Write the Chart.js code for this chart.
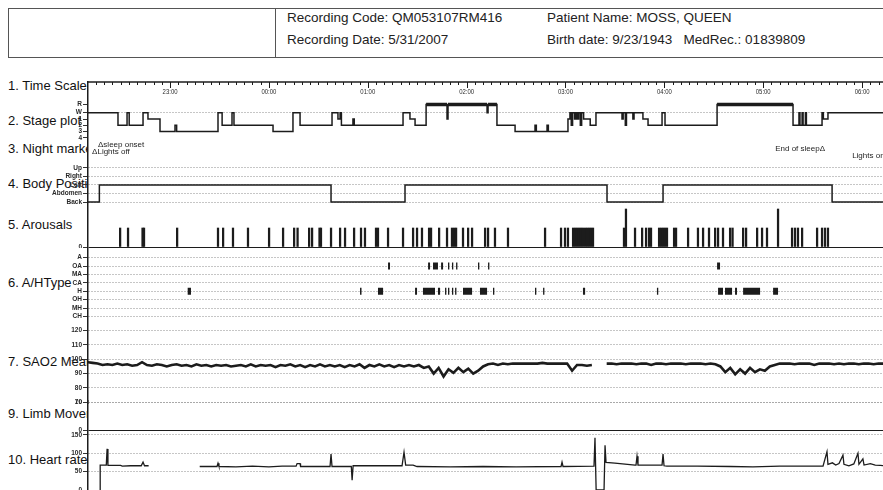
<!DOCTYPE html>
<html>
<head>
<meta charset="utf-8">
<title>Polysomnography overview</title>
<script src="https://cdn.jsdelivr.net/npm/chart.js@4/dist/chart.umd.min.js"></script>
<style>
  html, body { margin: 0; padding: 0; background: #fff; }
  #wrap { position: relative; width: 883px; height: 490px; overflow: hidden;
          font-family: "Liberation Sans", Arial, sans-serif; color: #222; }
  .hdr { position: absolute; left: 8px; top: 8px; width: 900px; height: 50px;
         border: 1.5px solid #555; box-sizing: border-box; }
  .hdr-div { position: absolute; left: 275px; top: 8px; height: 50px; border-left: 1.5px solid #555; }
  .ht { position: absolute; font-size: 13.5px; white-space: nowrap; line-height: 16px; }
  .lbl { position: absolute; left: 8px; width: 80px; overflow: hidden; white-space: nowrap;
         font-size: 13px; line-height: 16px; color: #111; }
  canvas { position: absolute; left: 0; z-index: 1; }
</style>
</head>
<body>
<div id="wrap">
  <div class="hdr"></div>
  <div class="hdr-div"></div>
  <div class="ht" style="left:287px;top:10px">Recording Code: QM053107RM416</div>
  <div class="ht" style="left:287px;top:32px">Recording Date: 5/31/2007</div>
  <div class="ht" style="left:547px;top:10px">Patient Name: MOSS, QUEEN</div>
  <div class="ht" style="left:547px;top:32px">Birth date: 9/23/1943&nbsp;&nbsp; MedRec.: 01839809</div>

  <div class="lbl" style="top:78px">1. Time Scale</div>
  <div class="lbl" style="top:113px">2. Stage plot</div>
  <div class="lbl" style="top:141px">3. Night marker</div>
  <div class="lbl" style="top:176px">4. Body Position</div>
  <div class="lbl" style="top:217px">5. Arousals</div>
  <div class="lbl" style="top:275px">6. A/HType</div>
  <div class="lbl" style="top:354px">7. SAO2 Mean</div>
  <div class="lbl" style="top:406px">9. Limb Movement</div>
  <div class="lbl" style="top:452px">10. Heart rate</div>
</div>
<script>
// All times are minutes after 22:00 on the recording night.
const X_MIN = 10.2, X_MAX = 492.7;
const MINOR_STEP = 5;
const HOUR_TICKS = [60, 120, 180, 240, 300, 360, 420, 480];
const HOUR_LABELS = ['23:00', '00:00', '01:00', '02:00', '03:00', '04:00', '05:00', '06:00'];

// Hypnogram: [minute the stage begins, stage]
const STAGE_NAMES = ['R', 'W', '1', '2', '3', '4'];
const STAGE_LEVEL = { R: 6.3, W: 5, '1': 4, '2': 3, '3': 2, '4': 1 };
const STAGE_CHANGES = [
  [10.2, 'W'], [28.4, '2'], [33.9, 'W'], [35.2, '2'], [43.6, 'W'], [46.6, '1'], [53.9, '3'],
  [63.0, '2'], [64.0, '3'], [89.1, 'W'], [91.6, '2'], [97.6, 'W'], [98.8, '2'], [122.5, '3'],
  [134.6, 'W'], [138.9, '2'], [158.3, 'W'], [161.9, '1'], [163.2, 'W'], [164.0, '2'],
  [171.0, '1'], [171.8, '2'], [201.4, 'W'], [205.6, '1'], [208.7, '2'], [215.4, 'R'],
  [228.1, '1'], [228.7, 'R'], [252.4, 'W'], [253.0, 'R'], [258.4, '2'], [269.4, '3'],
  [281.5, '2'], [282.3, '3'], [288.8, '2'], [289.6, '3'], [301.5, '1'], [302.7, 'W'],
  [303.5, '2'], [304.3, 'W'], [305.5, '1'], [306.3, 'W'], [307.2, '1'], [308.0, 'W'],
  [309.0, '2'], [309.8, 'W'], [311.0, '1'], [315.0, '2'], [318.5, 'W'], [334.3, '1'],
  [335.0, 'W'], [336.3, '2'], [337.0, 'W'], [340.9, '1'], [341.6, 'W'], [347.0, '1'],
  [350.1, '2'], [358.6, 'W'], [360.4, '2'], [392.0, 'R'], [438.1, '2'], [441.7, 'W'],
  [442.3, '2'], [443.6, 'W'], [444.2, '2'], [445.6, 'W'], [446.2, '2'], [455.7, 'W'],
  [456.5, '1'], [459.3, 'W']
];

// Night markers
const MARKER_TIMES = [18.1, 14.5, 455.7, 495.1];
const MARKER_TEXT = ['\u0394sleep onset', '\u0394Lights off', 'End of sleep\u0394', 'Lights on\u0394'];

// Body position: [minute, position]
const POSITION_NAMES = ['Up', 'Right', 'Left', 'Abdomen', 'Back'];
const POSITION_LEVEL = { Up: 5, Right: 4, Left: 3, Abdomen: 2, Back: 1 };
const POSITION_CHANGES = [
  [10.2, 'Back'], [17.1, 'Left'], [157.7, 'Back'], [202.6, 'Left'],
  [325.2, 'Back'], [359.2, 'Left'], [461.8, 'Back']
];

// Arousals: onset minute, and marker height
const AROUSAL_TIMES = [
  29.7, 34.5, 43.3, 44.2, 64.3, 89.1, 92.2, 98.2, 107.3, 120.1, 128.6, 135.3, 137.4,
  144.4, 146.2, 150.7, 151.6, 157.7, 163.2, 166.2, 171.7, 175.9, 178.3, 185.0, 186.2,
  192.3, 201.4, 207.5, 209.9, 212.9, 217.2, 218.4, 223.3, 228.1, 231.1, 232.4, 233.6,
  237.8, 240.9, 243.3, 251.2, 253.0, 257.2, 265.1, 287.6, 297.3, 299.7, 301.5, 304.6,
  305.8, 307.0, 308.2, 309.4, 310.6, 311.9, 313.1, 314.3, 315.5, 316.7, 335.5, 336.7,
  342.2, 346.5, 348.9, 350.7, 351.9, 356.8, 358.0, 359.2, 360.4, 361.6, 365.9, 367.1,
  374.4, 380.4, 383.5, 387.1, 390.8, 392.6, 395.6, 399.9, 401.4, 407.8, 409.6, 416.3,
  419.3, 422.3, 429.0, 437.5, 439.3, 441.1, 443.6, 452.7, 455.7, 457.5, 459.3
];
const AROUSAL_TALL = [336.7, 429.0];

// Apnea / hypopnea events: [start minute, end minute]
const AH_TYPES = ['A', 'OA', 'MA', 'CA', 'H', 'OH', 'MH', 'CH'];
const AH_LEVEL = { A: 8, OA: 7, MA: 6, CA: 5, H: 4, OH: 3, MH: 2, CH: 1 };
const OA_EVENTS = [
  [192.3, 193.5], [216.6, 217.8], [219.6, 222.6], [224.5, 225.7], [228.7, 229.5],
  [231.1, 231.9], [233.6, 234.4], [246.9, 247.7], [253.0, 253.8], [392.0, 393.8]
];
const H_EVENTS = [
  [70.7, 72.7], [175.3, 176.2], [186.2, 189.3], [208.7, 209.9], [213.5, 220.8],
  [222.6, 223.9], [226.9, 227.7], [228.7, 229.5], [231.1, 231.9], [233.0, 233.8],
  [237.8, 243.3], [248.1, 252.4], [256.0, 256.8], [281.5, 282.3], [286.4, 287.2],
  [310.6, 311.9], [355.5, 356.3], [392.6, 395.6], [396.8, 401.1], [402.9, 404.1],
  [407.8, 418.1], [426.0, 429.0]
];

// Mean oxygen saturation (%), one value every 3 minutes
const SAO2_START = 10, SAO2_STEP = 3;
const SAO2_VALUES = [
  98, 97.5, 97, 96, 96.5, 96, 97, 96, 96.5, 95.5,
  96, 98, 96, 95.5, 96.5, 96, 95, 96, 96.5, 95.5,
  96, 95, 96.5, 95.5, 96, 95, 96, 95.5, 96, 95,
  95.5, 96, 95, 96.5, 95, 96, 95.5, 96, 94.5, 96,
  95.5, 96.5, 95, 96, 94.5, 96, 95, 96.5, 95, 96,
  95, 96, 94.5, 96, 95, 96.5, 94, 96, 95, 96.5,
  95, 96, 94.5, 96, 95, 96, 95, 96, 94, 95,
  90, 94, 88, 93, 90.5, 94, 91, 93.5, 90, 92,
  95, 96.5, 97, 96, 97, 96.5, 97, 97, 97, 97,
  97, 97, 97.5, 97, 97, 97, 97, 97, 92, 96,
  96, 95.5, 96, null, null, 97, 97, 96.5, 97, 97,
  97, 96.5, 97, 97, 96, 97, 97, 96.5, 97, 97,
  97, 96.5, 97, 97, 97, 96.5, 97, 96.5, 95, 91,
  94, 89.5, 93, 90, 94, 91, 93, 92, 95, 96,
  97, 97, 97, 96.5, 97, 97, 97, 96, 97, 97,
  97, 96.5, 97, 96.5, 97, 97, 96.5, 97, 97, 96.5,
  97, 97
];

// Heart rate (bpm): [minute, bpm]; null marks a signal gap
const HR_POINTS = [
  [17.5, 0], [17.6, 68], [21.3, 68], [21.8, 112], [22.3, 67], [30, 67], [31, 65], [36, 66],
  [42.5, 66], [43.6, 76], [44.5, 66], [47, 66], [60, null],
  [78, 64], [88.5, 64], [89.1, 73], [89.7, 64], [100, 63], [110, 65], [120, 63], [128, 65],
  [136.5, 65], [137.1, 72], [138.9, 72], [139.2, 64], [157.1, 64], [157.7, 98], [158.3, 64],
  [170, 64], [170.5, 27], [171.1, 66], [200.8, 66], [202, 103], [203, 68], [207.5, 68],
  [209.9, 64], [230, 63], [250, 64], [270, 63], [297.3, 64], [297.9, 76], [298.5, 64],
  [317.3, 65], [317.9, 142], [318.6, 0], [323.4, 0], [324.0, 122], [324.6, 75], [330, 73],
  [342.2, 68], [342.8, 68], [343.4, 92], [344.0, 68], [358.6, 68], [359.2, 98], [359.8, 66],
  [361.6, 65], [380, 65], [400, 64], [413.8, 63], [430, 65], [456.3, 65], [458.7, 104],
  [459.3, 70], [462, 74], [464, 68], [466, 72], [468.4, 95], [469, 70], [472, 66], [475, 71],
  [477.5, 100], [478.1, 70], [480.5, 85], [481.2, 68], [485, 72], [488, 68], [491, 67], [493, 66]
];

const SAO2_TICKS = [120, 110, 100, 90, 80, 70];
const LIMB_TICKS = [10, 0];
const HR_TICKS = [150, 100, 50, 0];

// ---------------------------------------------------------------------------
const INK = '#1c1c1c';
const GRID = '#8c8c8c';
const AXIS_W = 88;
const FONT = '"Liberation Sans", Arial, sans-serif';
Chart.defaults.font.family = FONT;

const wrap = document.getElementById('wrap');
const isZero = c => !!(c.tick && c.tick.value === 0);

function yAxis(min, max, values, labels, gridColor, dash) {
  return {
    type: 'linear', min, max,
    // fixed axis width, and no extra room reserved for the end labels
    afterFit: s => { s.width = AXIS_W; s.paddingTop = 0; s.paddingBottom = 0; },
    afterBuildTicks: s => { s.ticks = values.map(v => ({ value: v })); },
    ticks: {
      autoSkip: false, padding: 1, color: '#2a2a2a',
      font: { size: 6.5, weight: 'bold' },
      callback: (v, i) => labels[i]
    },
    grid: { color: gridColor || GRID, lineWidth: 1, tickLength: 5, tickColor: '#333', tickWidth: 1 },
    border: { display: true, color: INK, width: 1.5, dash: dash || [1, 2] }
  };
}

function bareAxis() {
  return {
    type: 'linear', min: 0, max: 1,
    afterFit: s => { s.width = AXIS_W; s.paddingTop = 0; s.paddingBottom = 0; },
    ticks: { display: false },
    grid: { display: false, drawTicks: false },
    border: { display: true, color: INK, width: 1.5 }
  };
}

function panel(top, height, datasets, y, plugins, padTop) {
  const c = document.createElement('canvas');
  c.width = 883; c.height = height;
  c.style.top = top + 'px';
  wrap.appendChild(c);
  return new Chart(c, {
    type: 'line',
    data: { datasets },
    options: {
      responsive: false, animation: false, events: [],
      layout: { padding: { top: padTop || 0, left: 0, right: 0, bottom: 0 }, autoPadding: false },
      plugins: { legend: { display: false }, tooltip: { enabled: false } },
      scales: {
        x: { type: 'linear', min: X_MIN, max: X_MAX, display: false, offset: false },
        y
      }
    },
    plugins: plugins || []
  });
}

const lineStyle = { borderColor: INK, borderWidth: 1.5, pointRadius: 0, tension: 0, fill: false };

// step series helper: each change holds until the next one
function steps(changes, levels) {
  const pts = changes.map(([m, k]) => ({ x: m, y: levels[k] }));
  pts.push({ x: X_MAX, y: levels[changes[changes.length - 1][1]] });
  return pts;
}

// ---- 1. time scale ruler
const timeRuler = {
  id: 'timeRuler',
  afterDraw(chart) {
    const { ctx, chartArea: a } = chart;
    const x = chart.scales.x;
    ctx.save();
    ctx.strokeStyle = INK;
    ctx.lineWidth = 1.5;
    ctx.beginPath(); ctx.moveTo(a.left, a.top); ctx.lineTo(a.right, a.top); ctx.stroke();
    ctx.lineWidth = 1;
    for (let m = Math.ceil(X_MIN / MINOR_STEP) * MINOR_STEP; m <= X_MAX; m += MINOR_STEP) {
      const px = Math.round(x.getPixelForValue(m)) + 0.5;
      const len = m % 60 === 0 ? 6 : 3;
      ctx.beginPath(); ctx.moveTo(px, a.top); ctx.lineTo(px, a.top + len); ctx.stroke();
    }
    ctx.fillStyle = '#2a2a2a';
    ctx.font = '7px ' + FONT;
    ctx.textAlign = 'center';
    ctx.textBaseline = 'middle';
    HOUR_TICKS.forEach((m, i) => {
      ctx.save();
      ctx.translate(x.getPixelForValue(m), a.top + 10);
      ctx.scale(0.85, 1);
      ctx.fillText(HOUR_LABELS[i], 0, 0);
      ctx.restore();
    });
    ctx.restore();
  }
};
panel(72, 28, [], bareAxis(), [timeRuler], 10);

// ---- 2. stage plot
const remPoints = [];
STAGE_CHANGES.forEach(([m, s], i) => {
  if (s !== 'R') return;
  const end = i + 1 < STAGE_CHANGES.length ? STAGE_CHANGES[i + 1][0] : X_MAX;
  remPoints.push({ x: m, y: STAGE_LEVEL.R }, { x: end, y: STAGE_LEVEL.R }, { x: end, y: null });
});
panel(100, 40, [
  Object.assign({}, lineStyle, { data: steps(STAGE_CHANGES, STAGE_LEVEL), stepped: 'before' }),
  Object.assign({}, lineStyle, { data: remPoints, borderWidth: 3.5, borderCapStyle: 'butt', spanGaps: false })
], yAxis(0.667, 7.016, STAGE_NAMES.map(s => STAGE_LEVEL[s]), STAGE_NAMES,
  c => (c.tick && c.tick.value === STAGE_LEVEL.W) ? GRID : 'rgba(0,0,0,0)'));

// ---- 3. night markers
const nightText = {
  id: 'nightText',
  afterDraw(chart) {
    const { ctx } = chart;
    const x = chart.scales.x;
    const rowY = [5, 12, 9, 16];
    ctx.save();
    ctx.fillStyle = '#1e1e1e';
    ctx.font = '8px ' + FONT;
    ctx.textBaseline = 'middle';
    MARKER_TIMES.forEach((m, i) => {
      const px = x.getPixelForValue(m);
      const text = MARKER_TEXT[i];
      ctx.textAlign = text.startsWith('\u0394') ? 'left' : 'right';
      ctx.fillText(text, px + (ctx.textAlign === 'left' ? -3 : 3), rowY[i]);
    });
    ctx.restore();
  }
};
panel(140, 20, [], bareAxis(), [nightText]);

// ---- 4. body position
panel(160, 46, [
  Object.assign({}, lineStyle, { data: steps(POSITION_CHANGES, POSITION_LEVEL), stepped: 'before' })
], yAxis(0.53, 5.94, POSITION_NAMES.map(p => POSITION_LEVEL[p]), POSITION_NAMES));

// ---- 5. arousals
const arousalData = AROUSAL_TIMES.map(m => ({ x: m, y: AROUSAL_TALL.includes(m) ? 2 : 1 }));
panel(206, 42, [
  { type: 'bar', data: arousalData, backgroundColor: INK, barThickness: 1.6, borderWidth: 0 }
], yAxis(-0.0526, 2.158, [0], ['0'], INK, []));

// ---- 6. apnea / hypopnea type
function eventSegments(events, level) {
  const pts = [];
  events.forEach(([s, e]) => pts.push({ x: s, y: level }, { x: e, y: level }, { x: e, y: null }));
  return pts;
}
panel(248, 74, [
  Object.assign({}, lineStyle, { data: eventSegments(OA_EVENTS, AH_LEVEL.OA), borderWidth: 7, borderCapStyle: 'butt', spanGaps: false }),
  Object.assign({}, lineStyle, { data: eventSegments(H_EVENTS, AH_LEVEL.H), borderWidth: 7, borderCapStyle: 'butt', spanGaps: false })
], yAxis(0.345, 9.155, AH_TYPES.map(t => AH_LEVEL[t]), AH_TYPES));

// ---- 7. mean SaO2
const sao2Data = SAO2_VALUES.map((v, i) => ({ x: SAO2_START + i * SAO2_STEP, y: v }));
panel(322, 82, [
  Object.assign({}, lineStyle, { data: sao2Data, borderWidth: 2.6, spanGaps: false })
], yAxis(68.74, 126.08, SAO2_TICKS, SAO2_TICKS.map(String)));

// ---- 9. limb movement (baseline drawn solid)
panel(400, 32, [], yAxis(-0.61, 10.82, LIMB_TICKS, LIMB_TICKS.map(String),
  c => isZero(c) ? INK : GRID, c => isZero(c) ? [] : [1, 2]));

// ---- 10. heart rate
const hrData = HR_POINTS.map(([m, v]) => ({ x: m, y: v }));
panel(432, 58, [
  Object.assign({}, lineStyle, { data: hrData, borderWidth: 1.3, spanGaps: false })
], yAxis(0, 158, HR_TICKS, HR_TICKS.map(String)));
</script>
</body>
</html>
